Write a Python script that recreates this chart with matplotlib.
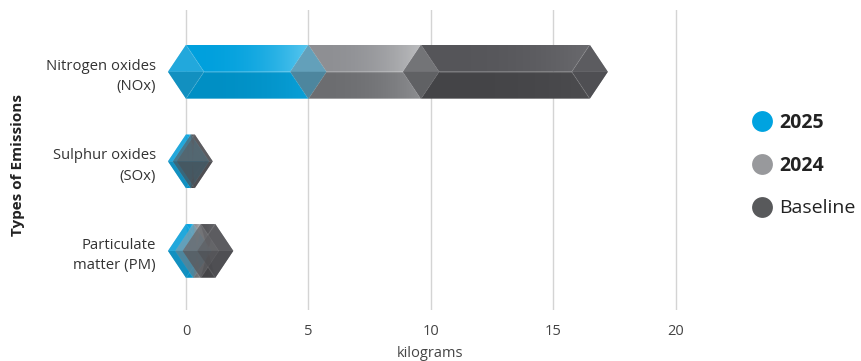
import numpy as np
import matplotlib
matplotlib.use("Agg")
import matplotlib.pyplot as plt
from matplotlib.patches import Polygon
from matplotlib.lines import Line2D
from matplotlib.colors import to_rgb

plt.rcParams['font.family'] = ['Open Sans', 'DejaVu Sans']

categories = ["Nitrogen oxides\n(NOx)", "Sulphur oxides\n(SOx)", "Particulate\nmatter (PM)"]
series = ["2025", "2024", "Baseline"]
# stacked segment lengths in kilograms
v2025 = [5.0, 0.20, 0.3]
v2024 = [4.6, 0.0, 0.3]
baseline = [6.9, 0.16, 0.6]
xticks = [0, 5, 10, 15, 20]

# face colours: top (start, end), bottom (start, end), end-face upper/lower, see-through alpha
styles = {
    "2025": dict(top=("#00a0dd", "#5ac7ef"), bot=("#008fc4", "#0aa0d8"),
                 cap=("#22a8dc", "#1290c0"), alpha=0.5, legend="#00a3e0"),
    "2024": dict(top=("#8e8f93", "#bcbdbf"), bot=("#6c6d70", "#8d8e91"),
                 cap=("#9a9b9e", "#7e7f82"), alpha=0.55, legend="#98999c"),
    "Baseline": dict(top=("#555559", "#6a6a6e"), bot=("#444447", "#4c4c4f"),
                     cap=("#5c5c60", "#4f4f53"), alpha=0.62, legend="#58595b"),
}

W = 18 / 24.5   # half-length of the hexagonal end faces, in data units
H = 0.3         # half-height of a bar


def grad_poly(ax, verts, c0, c1, z, power=2.5):
    poly = Polygon(verts, closed=True, facecolor="none", edgecolor="none", zorder=z)
    ax.add_patch(poly)
    xs = [v[0] for v in verts]
    ys = [v[1] for v in verts]
    t = np.linspace(0, 1, 256) ** power
    a, b = np.array(to_rgb(c0)), np.array(to_rgb(c1))
    cols = a[None, :] * (1 - t[:, None]) + b[None, :] * t[:, None]
    im = ax.imshow(cols[None, :, :], extent=(min(xs), max(xs) + 1e-6, max(ys), min(ys)),
                   aspect="auto", interpolation="bilinear", zorder=z)
    im.set_clip_path(poly)


def end_faces(ax, a, b, yc, st, z, alpha):
    yt, yb = yc - H, yc + H
    for x in (a, b):
        ax.add_patch(Polygon([(x - W, yc), (x, yt), (x + W, yc)], facecolor=st["cap"][0],
                             edgecolor="none", alpha=alpha, zorder=z))
        ax.add_patch(Polygon([(x - W, yc), (x, yb), (x + W, yc)], facecolor=st["cap"][1],
                             edgecolor="none", alpha=alpha, zorder=z))


def body(ax, a, b, yc, st, z):
    yt, yb = yc - H, yc + H
    m = (a + b) / 2
    li, ri = min(a + W, m), max(b - W, m)
    grad_poly(ax, [(a, yt), (b, yt), (ri, yc), (li, yc)], st["top"][0], st["top"][1], z)
    grad_poly(ax, [(a, yb), (b, yb), (ri, yc), (li, yc)], st["bot"][0], st["bot"][1], z)
    hl = dict(color="white", alpha=0.15, lw=0.8, zorder=z + 0.5, solid_capstyle="butt")
    if ri > li:
        ax.plot([li, ri], [yc, yc], **hl)
    ax.plot([b, b - W, b], [yt, yc, yb], **hl)
    ax.plot([a, a + W, a], [yt, yc, yb], **hl)


fig = plt.figure(figsize=(8.61, 3.61), dpi=100)
ax = fig.add_axes([160 / 861, 1 - 310 / 361, 540 / 861, 300 / 361])

values = {"2025": v2025, "2024": v2024, "Baseline": baseline}
for i in range(len(categories)):
    left = 0.0
    for k, s in enumerate(series):
        length = values[s][i]
        if length <= 0:
            continue
        st = styles[s]
        # solid end faces underneath, bodies on top, then see-through end faces
        end_faces(ax, left, left + length, i, st, 3 - 0.1 * k, 1.0)
        body(ax, left, left + length, i, st, 4)
        end_faces(ax, left, left + length, i, st, 6 + 0.1 * k, st["alpha"])
        left += length

ax.set_xlim(-1.06, 21)
ax.set_ylim(2.66, -0.69)
ax.set_xticks(xticks)
ax.set_xticklabels([str(t) for t in xticks])
ax.set_yticks(range(len(categories)))
ax.set_yticklabels(categories, linespacing=1.5, ha="right")
ax.grid(axis="x", color="#d4d4d4", lw=1, zorder=0)
ax.set_axisbelow(True)
for sp in ax.spines.values():
    sp.set_visible(False)
ax.tick_params(axis="x", length=0, pad=10, labelsize=10.5, labelcolor="#444444")
ax.tick_params(axis="y", length=0, pad=3, labelsize=10.7, labelcolor="#333333")
ax.set_xlabel("kilograms", fontsize=10.5, color="#444444", labelpad=5)
ax.set_ylabel("Types of Emissions", fontsize=11, fontweight="bold", color="#222222")
ax.yaxis.set_label_coords(-0.25, 0.483)

handles = [Line2D([], [], marker="o", ls="none", ms=15, mfc=styles[s]["legend"],
                  mec="none") for s in series]
leg = fig.legend(handles, series, loc="center left", bbox_to_anchor=(752 / 861, 1 - 165 / 361),
                 frameon=False, fontsize=14, labelspacing=1.2, handletextpad=0.4,
                 handlelength=1.0, borderpad=0, borderaxespad=0)
for txt, s in zip(leg.get_texts(), series):
    txt.set_color("#222222")
    if s != "Baseline":
        txt.set_fontweight("bold")

fig.savefig("out.png", dpi=100)
